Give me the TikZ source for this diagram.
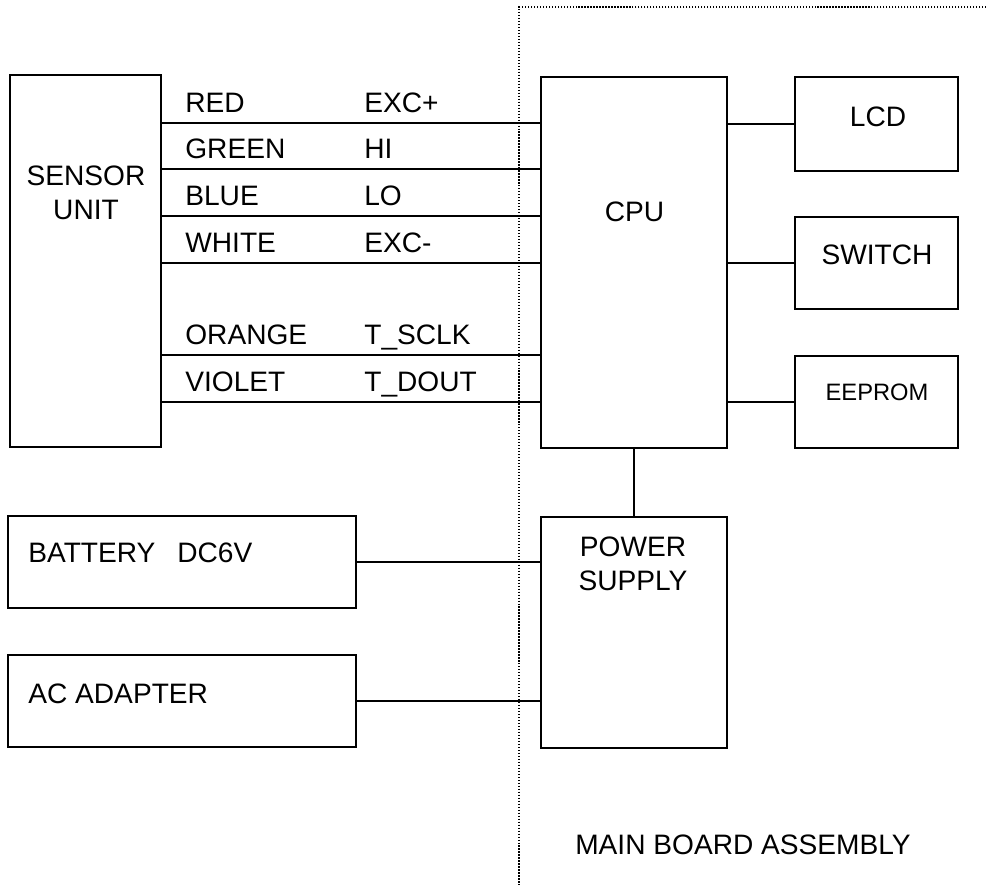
\documentclass[tikz,border=0pt]{standalone}
\usepackage{fontspec}
\setmainfont{Liberation Sans}
\usetikzlibrary{positioning}

\begin{document}
\begin{tikzpicture}[
    every node/.style={font=\fontsize{16}{19.5}\selectfont},
    blk/.style={draw, line width=1.3pt, inner sep=0pt},
    txt/.style={align=center, inner sep=0pt},
    lbl/.style={anchor=base west, inner sep=0pt},
    wire/.style={line width=1.2pt},
    pwire/.style={line width=1.0pt},
    board/.style={densely dotted, line width=0.7pt}
]
\useasboundingbox (0,0) rectangle (19.72,17.7);

% main board outline
\coordinate (bdtop) at (10.38,17.56);
\coordinate (bdright) at (19.72,17.56);
\coordinate (bdbot) at (10.38,0);
\draw[board] (bdright) -- (bdtop) -- (bdbot);
\node[txt] (boardtxt) at (14.86,0.8) {MAIN BOARD ASSEMBLY};

% sensor
\node[blk, minimum width=3.02cm, minimum height=7.44cm] (sensor) at (1.71,12.48) {};
\node[txt] (sensortxt) at (1.72,13.85) {SENSOR\\UNIT};

% cpu and peripherals
\node[blk, minimum width=3.72cm, minimum height=7.42cm] (cpu) at (12.68,12.45) {};
\node[txt] (cputxt) at (12.69,13.46) {CPU};

\node[blk, minimum width=3.26cm, minimum height=1.88cm] (lcd) at (17.53,15.22) {};
\node[txt] (lcdtxt) at (17.56,15.36) {LCD};
\node[blk, minimum width=3.26cm, minimum height=1.84cm] (switch) at (17.53,12.44) {};
\node[txt] (switchtxt) at (17.54,12.6) {SWITCH};
\node[blk, minimum width=3.26cm, minimum height=1.84cm] (eeprom) at (17.53,9.66) {};
\node[txt, font=\fontsize{13.5}{16}\selectfont] (eepromtxt) at (17.54,9.86) {EEPROM};

\draw[wire] (cpu.east |- lcd) -- (lcd.west);
\draw[wire] (cpu.east |- switch) -- (switch.west);
\draw[wire] (cpu.east |- eeprom) -- (eeprom.west);

% sensor cable
\draw[wire] (sensor.east |- 0,15.24) -- (cpu.west |- 0,15.24);
\draw[wire] (sensor.east |- 0,14.32) -- (cpu.west |- 0,14.32);
\draw[wire] (sensor.east |- 0,13.38) -- (cpu.west |- 0,13.38);
\draw[wire] (sensor.east |- 0,12.44) -- (cpu.west |- 0,12.44);
\draw[wire] (sensor.east |- 0,10.60) -- (cpu.west |- 0,10.60);
\draw[wire] (sensor.east |- 0,9.66) -- (cpu.west |- 0,9.66);

\node[lbl] (red) at (3.70,15.44) {RED};
\node[lbl] (excp) at (7.28,15.44) {EXC+};
\node[lbl] (green) at (3.70,14.52) {GREEN};
\node[lbl] (hi) at (7.28,14.52) {HI};
\node[lbl] (blue) at (3.70,13.58) {BLUE};
\node[lbl] (lo) at (7.28,13.58) {LO};
\node[lbl] (white) at (3.70,12.64) {WHITE};
\node[lbl] (excm) at (7.28,12.64) {EXC-};
\node[lbl] (orange) at (3.70,10.80) {ORANGE};
\node[lbl] (tsclk) at (7.28,10.80) {T\_SCLK};
\node[lbl] (violet) at (3.70,9.86) {VIOLET};
\node[lbl] (tdout) at (7.28,9.86) {T\_DOUT};

% power
\node[blk, minimum width=3.72cm, minimum height=4.62cm] (pwr) at (12.68,5.05) {};
\node[txt] (pwrtxt) at (12.66,6.43) {POWER\\SUPPLY};
\draw[pwire] (cpu) -- (pwr);

\node[blk, minimum width=6.96cm, minimum height=1.84cm] (bat) at (3.64,6.46) {};
\node[lbl] (battxt) at (0.56,6.44) {BATTERY};
\node[lbl] (dctxt) at (3.54,6.44) {DC6V};
\node[blk, minimum width=6.96cm, minimum height=1.84cm] (acad) at (3.64,3.68) {};
\node[lbl] (acadtxt) at (0.56,3.62) {AC ADAPTER};

\draw[pwire] (bat.east) -- (bat.east -| pwr.west);
\draw[pwire] (acad.east) -- (acad.east -| pwr.west);

\end{tikzpicture}
\end{document}
